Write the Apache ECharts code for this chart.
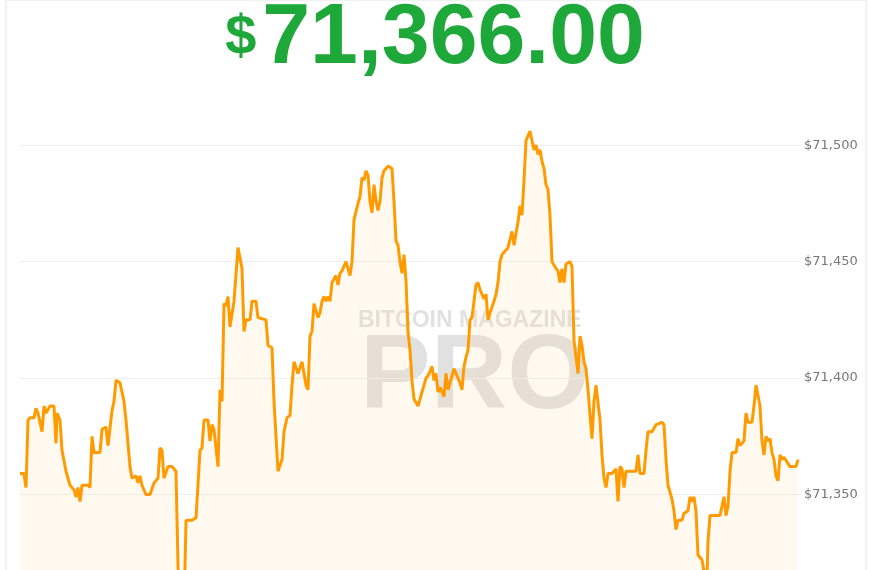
<!DOCTYPE html>
<html>
<head>
<meta charset="utf-8">
<script src="https://cdn.jsdelivr.net/npm/echarts@6/dist/echarts.min.js"></script>
<style>
  html, body { margin: 0; padding: 0; background: #fff; overflow: hidden; }
  #main { width: 870px; height: 611px; }
</style>
</head>
<body>
<div id="main"></div>
<script>
// minutes from start
const minutes = [0,4,6,8,10,14,16,18,20,22,24,26,30,34,36,37,40,42,46,50,54,56,58,60,62,68,70,72,74,80,82,86,88,90,92,94,96,100,104,106,110,112,116,118,120,122,126,130,134,138,140,142,144,148,152,154,156,159,164,166,168,172,176,180,182,184,188,190,192,194,198,200,202,204,206,208,210,212,214,216,218,220,222,224,226,230,232,236,238,240,246,248,252,254,258,262,264,267,270,272,274,278,280,282,286,288,290,292,294,298,300,302,304,306,308,310,312,316,318,320,322,326,328,330,332,334,336,338,340,342,344,346,348,350,352,354,356,358,360,362,364,366,368,370,372,374,376,378,380,382,384,386,388,390,392,394,398,400,402,406,408,412,414,416,418,420,422,424,426,428,430,432,434,436,440,442,444,446,448,450,452,454,456,458,460,462,464,466,468,470,474,476,478,480,482,484,486,488,490,492,494,498,500,502,504,506,510,512,514,516,518,520,522,524,526,528,530,532,534,536,538,540,542,544,546,550,552,554,556,558,560,562,564,566,568,572,574,576,578,580,582,584,586,588,592,596,598,600,602,604,606,616,618,620,624,626,628,632,636,642,644,646,648,652,654,656,658,662,664,668,670,672,674,676,678,682,684,686,688,690,694,700,704,706,708,710,712,716,718,720,724,726,728,732,734,736,740,742,744,746,748,750,752,754,756,758,760,762,764,770,776,778]
const prices = [71359,71359,71353,71382,71383,71383,71387,71385,71385,71377,71388,71385,71388,71388,71372,71385,71382,71369,71360,71354,71352,71349,71353,71347,71354,71354,71353,71375,71368,71368,71378,71379,71371,71371,71386,71390,71399,71398,71390,71382,71362,71357,71358,71355,71358,71354,71350,71350,71355,71357,71370,71369,71357,71362,71362,71362,71360,71300,71300,71339,71339,71339,71340,71369,71370,71382,71382,71373,71380,71378,71362,71395,71390,71432,71431,71435,71422,71422,71433,71433,71456,71456,71447,71420,71425,71425,71433,71433,71426,71426,71425,71414,71413,71390,71360,71365,71377,71383,71384,71397,71407,71402,71402,71407,71397,71395,71418,71420,71432,71426,71428,71433,71435,71433,71435,71433,71441,71444,71440,71445,71446,71450,71450,71444,71450,71468,71468,71475,71478,71486,71485,71489,71487,71476,71471,71483,71476,71472,71476,71486,71489,71490,71491,71491,71490,71476,71459,71457,71450,71445,71453,71442,71420,71412,71399,71391,71388,71391,71394,71400,71401,71405,71399,71402,71394,71396,71396,71392,71402,71395,71395,71401,71404,71402,71398,71395,71405,71409,71412,71425,71426,71433,71440,71441,71438,71436,71434,71436,71425,71428,71433,71436,71441,71450,71453,71453,71455,71456,71456,71463,71457,71467,71474,71470,71485,71502,71506,71502,71498,71500,71496,71498,71493,71490,71483,71481,71470,71450,71450,71447,71446,71441,71447,71441,71449,71450,71448,71416,71409,71402,71418,71414,71407,71404,71395,71374,71390,71397,71397,71382,71367,71357,71353,71359,71359,71361,71347,71362,71361,71353,71360,71360,71367,71359,71359,71369,71377,71377,71380,71381,71380,71365,71354,71348,71343,71335,71339,71339,71342,71343,71349,71347,71349,71343,71324,71322,71317,71300,71330,71341,71341,71341,71349,71341,71345,71360,71368,71368,71374,71371,71373,71385,71381,71381,71388,71397,71388,71373,71367,71375,71373,71374,71368,71365,71358,71356,71367,71365,71366,71362,71362,71365]
const yTicks = [71350, 71400, 71450, 71500]

let chart = echarts.init(document.getElementById('main'))
let seriesData = minutes.map((m, i) => [m, prices[i]])
let option = {
  animation: false,
  grid: { left: 20, right: 70, top: 52, bottom: 0 },
  xAxis: {
    type: 'value',
    min: 0,
    max: 780,
    show: false,
  },
  yAxis: {
    type: 'value',
    position: 'right',
    min: 71300,
    max: 71540,
    interval: 50,
    axisLine: { show: false },
    axisTick: { show: false },
    axisLabel: {
      color: '#777',
      fontSize: 13,
      fontFamily: 'DejaVu Sans',
      margin: 4,
      formatter: v => yTicks.includes(v) ? '$' + v.toLocaleString('en-US') : '',
    },
    splitLine: { showMaxLine: false, lineStyle: { color: '#eeeeee', width: 1 } },
  },
  graphic: [
    { type: 'rect', shape: { x: 6, y: 0, width: 860, height: 611 }, style: { fill: 'none', stroke: '#e4e4e4', lineWidth: 1 }, z: -1 },
    {
      type: 'text', left: 'center', top: -4,
      style: {
        text: '{d|$}{n|71,366.00}',
        rich: {
          d: { fontSize: 56, fontWeight: 'bold', fill: '#1ea83a', fontFamily: 'Liberation Sans', padding: [0, 6, 0, 0] },
          n: { fontSize: 86, fontWeight: 'bold', fill: '#1ea83a', fontFamily: 'Liberation Sans' },
        },
      },
    },
    { type: 'text', left: 358, top: 309, z: 0, style: { text: 'BITCOIN MAGAZINE', fontSize: 23, fontWeight: 'bold', fill: 'rgba(170,170,170,0.35)', fontFamily: 'Liberation Sans' } },
    { type: 'text', left: 360, top: 326, z: 0, style: { text: 'PRO', fontSize: 106, fontWeight: 'bold', fill: 'rgba(170,170,170,0.35)', fontFamily: 'Liberation Sans' } },
  ],
  series: [
    {
      type: 'line',
      data: seriesData,
      symbol: 'none',
      clip: true,
      lineStyle: { color: '#ff9b00', width: 3 },
      areaStyle: { color: 'rgba(255,200,130,0.17)', origin: 'start' },
      z: 3,
    },
  ],
}
chart.setOption(option)
</script>
</body>
</html>
